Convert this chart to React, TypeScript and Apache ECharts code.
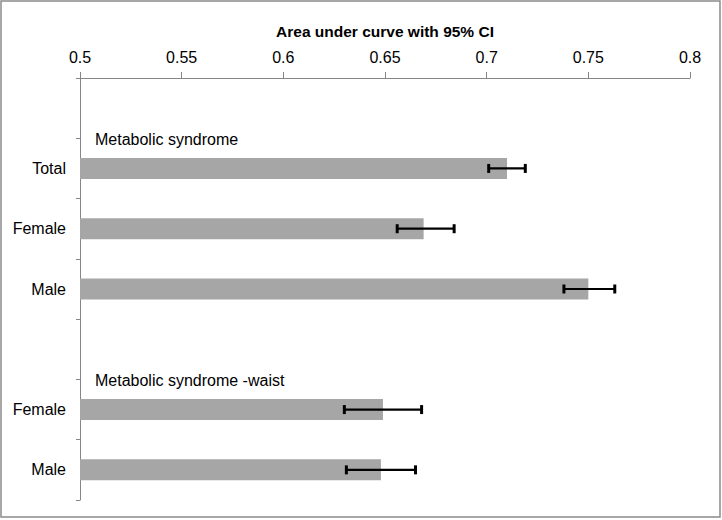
import React, { useEffect, useRef } from "react";
import * as echarts from "echarts";

const categories = ["", "Total", "Female", "Male", "", "Female", "Male"];
const aucValues = [null, 0.71, 0.669, 0.75, null, 0.649, 0.648];
const ciLow = [null, 0.701, 0.656, 0.738, null, 0.63, 0.631];
const ciHigh = [null, 0.719, 0.684, 0.763, null, 0.668, 0.665];
const groupLabels = ["Metabolic syndrome", "Metabolic syndrome -waist"];
const groupLabelRows = [0, 4];
const xTicks = [0.5, 0.55, 0.6, 0.65, 0.7, 0.75, 0.8];
const axisTitle = "Area under curve with 95% CI";

const FONT = "Liberation Sans, Arial, sans-serif";

export default function App() {
  const ref = useRef<HTMLDivElement>(null);
  useEffect(() => {
    if (!ref.current) return;
    const chart = echarts.init(ref.current, null, { renderer: "svg" });
    const xMin = xTicks[0];
    const xMax = xTicks[xTicks.length - 1];
    const step = xTicks[1] - xTicks[0];
    chart.setOption({
      animation: false,
      backgroundColor: "#ffffff",
      textStyle: { fontFamily: FONT },
      graphic: [
        {
          type: "rect",
          shape: { x: 1, y: 1, width: 719, height: 516 },
          style: { fill: "none", stroke: "#8a8a8a", lineWidth: 1.5 },
          silent: true,
        },
      ],
      grid: { left: 80, right: 32, top: 78, bottom: 20, containLabel: false },
      xAxis: {
        type: "value",
        position: "top",
        min: xMin,
        max: xMax,
        interval: step,
        name: axisTitle,
        nameLocation: "middle",
        nameGap: 39,
        nameTextStyle: { fontFamily: FONT, fontSize: 15.5, fontWeight: "bold", color: "#000" },
        axisLine: { show: true, lineStyle: { color: "#868686", width: 1 } },
        axisTick: { show: true, length: 6, lineStyle: { color: "#868686" } },
        axisLabel: {
          fontFamily: FONT,
          fontSize: 16,
          color: "#000",
          margin: 13,
          formatter: (v: number) => {
            const t = xTicks.find((k) => Math.abs(k - v) < 1e-9);
            return t !== undefined ? String(t) : "";
          },
        },
        splitLine: { show: false },
      },
      yAxis: {
        type: "category",
        inverse: true,
        data: categories,
        axisLine: { show: true, lineStyle: { color: "#868686", width: 1 } },
        axisTick: { show: true, length: 4, alignWithLabel: false, lineStyle: { color: "#868686" } },
        axisLabel: { fontFamily: FONT, fontSize: 16, color: "#000", margin: 14, interval: 0 },
        splitLine: { show: false },
      },
      series: [
        {
          type: "bar",
          data: aucValues,
          barWidth: 21,
          clip: true,
          itemStyle: { color: "#a6a6a6" },
        },
        {
          type: "custom",
          data: categories.map((_, i) => [i, ciLow[i], ciHigh[i]]).filter((d) => d[1] !== null),
          renderItem: (params: any, api: any) => {
            const idx = api.value(0);
            const lo = api.coord([api.value(1), idx]);
            const hi = api.coord([api.value(2), idx]);
            const cap = 4.5;
            const style = { stroke: "#000", lineWidth: 2.2 };
            return {
              type: "group",
              children: [
                { type: "line", shape: { x1: lo[0], y1: lo[1], x2: hi[0], y2: hi[1] }, style },
                { type: "line", shape: { x1: lo[0], y1: lo[1] - cap, x2: lo[0], y2: lo[1] + cap }, style: { stroke: "#000", lineWidth: 3 } },
                { type: "line", shape: { x1: hi[0], y1: hi[1] - cap, x2: hi[0], y2: hi[1] + cap }, style: { stroke: "#000", lineWidth: 3 } },
              ],
            };
          },
          z: 5,
        },
        {
          type: "scatter",
          symbol: "circle",
          symbolSize: 0,
          itemStyle: { opacity: 1, color: "#000" },
          data: groupLabelRows.map((r) => [xMin, r]),
          label: {
            show: true,
            position: [15, 31],
            align: "left",
            verticalAlign: "middle",
            fontFamily: FONT,
            fontSize: 16,
            color: "#000",
            opacity: 1,
            formatter: (p: any) => groupLabels[p.dataIndex],
          },
          z: 6,
        },
      ],
    });
    return () => chart.dispose();
  }, []);
  return (
    <div
      ref={ref}
      style={{ position: "absolute", left: 0, top: 0, width: 722, height: 520 }}
    />
  );
}
